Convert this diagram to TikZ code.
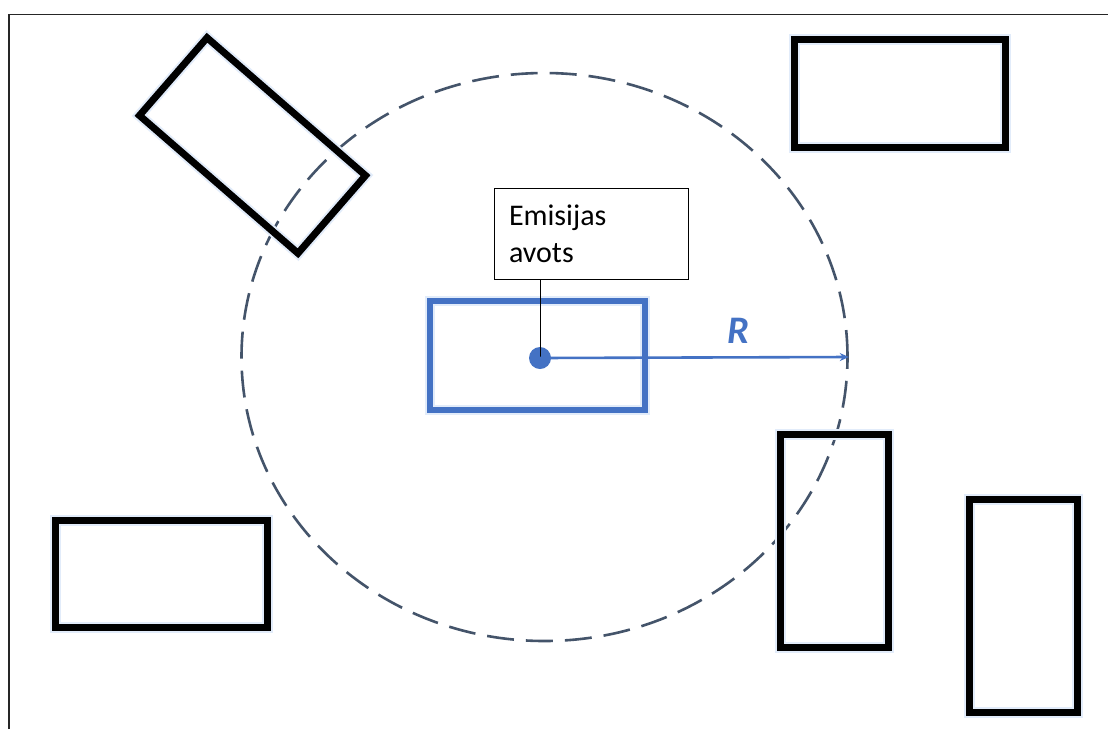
\documentclass[tikz,border=0pt]{standalone}
\usepackage{fontspec}
\setmainfont{Carlito}
\usetikzlibrary{shapes.geometric,arrows.meta}
\definecolor{accent}{HTML}{4472C4}
\definecolor{ringcol}{HTML}{44546A}
\definecolor{halo}{RGB}{226,236,250}
\tikzset{
  glow/.style={preaction={draw=halo,line width=#1}},
  building/.style={draw=black,line width=7pt,rectangle,inner sep=0pt,glow=11pt},
  sourcebox/.style={draw=accent,line width=6pt,rectangle,inner sep=0pt,glow=10pt},
  ring/.style={draw=ringcol,line width=2.6pt,ellipse,inner sep=0pt,
    dash pattern=on 27pt off 12pt},
  callout/.style={draw=black,line width=1pt,rectangle,inner sep=0pt,
    font=\fontsize{30}{37}\selectfont,align=left},
}
\begin{document}
\begin{tikzpicture}[x=1pt,y=-1pt]
  \useasboundingbox (0,0) rectangle (1108,729);
  \fill[white] (0,0) rectangle (1108,729);
  % frame
  \draw[line width=1.6pt,black!85] (9,729) -- (9,14.5) -- (1108,14.5);

  % radius ring
  \node[ring,minimum width=606pt,minimum height=568pt] (zone) at (544.5,357) {};

  % surrounding buildings
  \node[building,minimum width=210pt,minimum height=103pt,rotate=-41] (b1) at (252.5,145.5) {};
  \node[building,minimum width=211pt,minimum height=108pt] (b2) at (899.5,93) {};
  \node[building,minimum width=212pt,minimum height=107pt] (b3) at (161,573.5) {};
  \node[building,minimum width=108pt,minimum height=213pt] (b4) at (834,540.5) {};
  \node[building,minimum width=108pt,minimum height=213pt] (b5) at (1023,605.5) {};

  % emission source
  \node[sourcebox,minimum width=215pt,minimum height=109pt] (src) at (537.5,355.5) {};
  \node[circle,fill=accent,minimum size=22pt,inner sep=0pt] (dot) at (540,358) {};

  % callout
  \node[callout,minimum width=194pt,minimum height=91pt,text width=164pt]
    (lbl) at (591,233.5) {Emisijas\\avots};
  \draw[line width=1pt,black] (dot.center |- lbl.south) -- (dot.center);

  % radius arrow
  \draw[accent,line width=2.6pt,-{Stealth[length=9pt,width=8pt]}]
    (dot.center) -- (zone.east);
  \node[text=accent,font=\fontsize{39}{39}\selectfont\bfseries\itshape]
    (rlab) at (738,331) {R};
\end{tikzpicture}
\end{document}
